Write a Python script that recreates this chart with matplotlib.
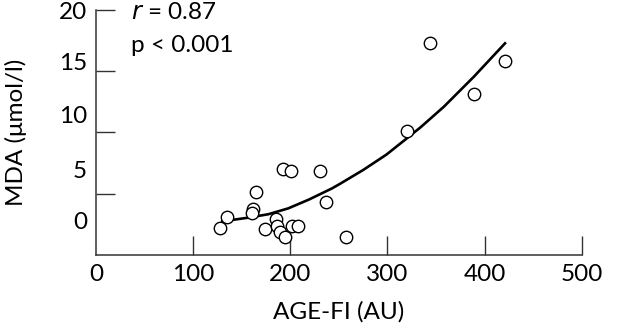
import matplotlib
matplotlib.use("Agg")
import matplotlib.pyplot as plt
import matplotlib.transforms as mtransforms

# scatter data
age_fi = [127.7, 135.2, 165.0, 162.0, 161.0, 174.0, 192.0, 201.0, 185.2, 186.0,
          189.0, 194.6, 201.3, 207.6, 231.0, 237.0, 257.0, 320.6, 343.3, 389.3, 420.9]
mda = [2.2, 3.07, 5.12, 3.79, 3.4, 2.11, 7.04, 6.86, 2.95, 2.38,
       1.87, 1.44, 2.35, 2.35, 6.82, 4.32, 1.46, 10.1, 17.28, 13.14, 15.84]

# fitted curve
fit_x = [130, 157, 177.5, 198, 219, 231, 243, 252, 275, 299, 318, 334, 358, 389, 421]
fit_y = [2.75, 3.05, 3.33, 3.81, 4.52, 4.98, 5.44, 5.85, 6.94, 8.2, 9.4, 10.42, 12.1, 14.56, 17.28]

x_ticks = [100, 200, 300, 400, 500]
x_ticklabels = ["0", "100", "200", "300", "400", "500"]
y_ticks = [5, 10, 15, 20]
# the y labels in the original sit off the tick marks
y_ticklabels = ["0", "5", "10", "15", "20"]
y_label_pos = [2.65, 6.8, 11.3, 15.6, 19.8]

plt.rcParams["font.family"] = ["Lato", "DejaVu Sans"]
FS = 17.5
AX_COL = "#333333"

fig = plt.figure(figsize=(6.4, 3.31), dpi=100)
ax = fig.add_axes([0.15, 0.2296, 0.759, 0.7402])

ax.plot(fit_x, fit_y, color="black", lw=1.9, zorder=2)
ax.scatter(age_fi, mda, s=80, facecolor="white", edgecolor="black",
           linewidth=1.0, zorder=3)

ax.set_xlim(0, 500)
ax.set_ylim(0, 20)

for side in ("top", "right"):
    ax.spines[side].set_visible(False)
for side in ("left", "bottom"):
    ax.spines[side].set_color(AX_COL)
    ax.spines[side].set_linewidth(1.1)

ax.set_xticks(x_ticks)
ax.set_xticklabels([])
ax.set_yticks(y_ticks)
ax.set_yticklabels([])
ax.tick_params(direction="in", length=14, width=1.0, color=AX_COL)

# tick labels as text (x includes the 0 at the corner)
xt = mtransforms.blended_transform_factory(ax.transData, ax.transAxes)
for v, lab in zip([0] + x_ticks, x_ticklabels):
    ax.text(v, -0.035, lab, transform=xt, ha="center", va="top",
            fontsize=FS, clip_on=False)
yt = mtransforms.blended_transform_factory(ax.transAxes, ax.transData)
for v, lab in zip(y_label_pos, y_ticklabels):
    ax.text(-0.018, v, lab, transform=yt, ha="right", va="center",
            fontsize=FS, clip_on=False)

ax.set_xlabel("AGE-FI (AU)", fontsize=FS, labelpad=30)
ax.set_ylabel("MDA (\u03bcmol/l)", fontsize=FS, labelpad=46)

ax.text(0.073, 0.99, "$\\it{r}$ = 0.87", transform=ax.transAxes,
        fontsize=FS, va="center", ha="left")
ax.text(0.073, 0.855, "p < 0.001", transform=ax.transAxes,
        fontsize=FS, va="center", ha="left")

fig.savefig("out.png", dpi=100)
